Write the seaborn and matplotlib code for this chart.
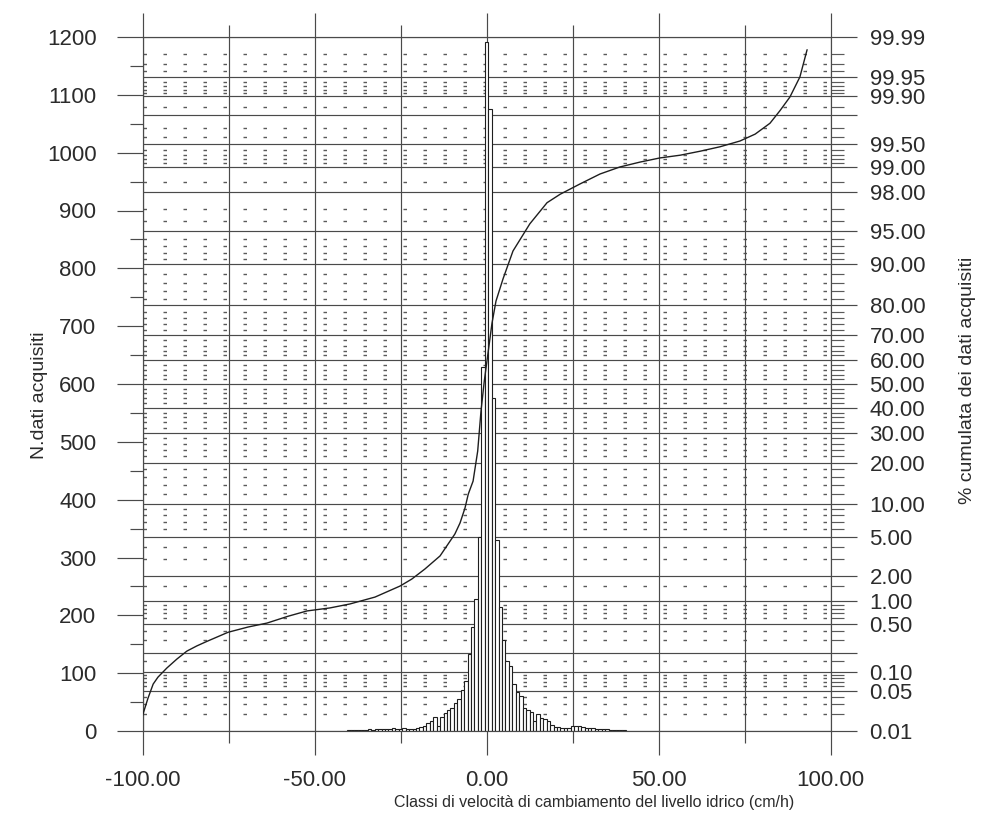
import math
import numpy as np
import pandas as pd
import matplotlib
matplotlib.use("Agg")
import matplotlib.pyplot as plt
from matplotlib.ticker import FixedLocator, FixedFormatter, NullFormatter
import seaborn as sns

# ---------------- data ----------------
bin_centers = list(range(-40, 41))
bin_counts = [
    1, 1, 2, 1, 2, 2, 3, 2, 3, 3,            # -40 .. -31
    4, 3, 4, 5, 4, 4, 5, 3, 3, 4,            # -30 .. -21
    6, 7, 9, 13, 17, 25, 9, 25, 31, 37,      # -20 .. -11
    40, 48, 55, 71, 87, 134, 180, 228, 336, 629,  # -10 .. -1
    1191,                                    # 0
    1075, 576, 331, 215, 157, 121, 112, 81, 68, 60,  # 1 .. 10
    40, 37, 32, 18, 30, 22, 20, 17, 10, 7,   # 11 .. 20
    7, 5, 5, 6, 8, 9, 8, 7, 5, 6,            # 21 .. 30
    5, 4, 3, 4, 3, 2, 2, 1, 1, 1,            # 31 .. 40
]

curve_x = [-100, -98.4, -96.9, -95.5, -92.9, -90.0, -87.1, -84.2, -81.3, -75.1,
           -69.3, -63.8, -57.7, -52.2, -45.5, -39.7, -32.4, -25.1, -21.7, -17.9,
           -13.5, -9.2, -7.7, -6.25, -5.3, -3.9, -2.56, -1.6, -0.64, 0.52,
           1.6, 2.76, 4.8, 7.7, 12.6, 17.6, 21.4, 27.2, 33.0, 38.8,
           44.6, 50.4, 56.3, 62.1, 67.9, 73.7, 78.1, 82.4, 85.3, 88.2,
           91.1, 93.2]
curve_pct = [0.019, 0.038, 0.065, 0.084, 0.117, 0.16, 0.21, 0.25, 0.29, 0.39,
             0.46, 0.52, 0.64, 0.75, 0.82, 0.92, 1.12, 1.52, 1.83, 2.37,
             3.27, 5.39, 6.81, 9.19, 11.9, 14.9, 23.6, 38.6, 51.3, 63.8,
             74.3, 81.3, 87.0, 92.3, 95.7, 97.4, 97.9, 98.40, 98.78, 99.00,
             99.13, 99.23, 99.29, 99.37, 99.45, 99.54, 99.63, 99.74, 99.83, 99.895,
             99.950, 99.983]

prob_major = [0.01, 0.05, 0.1, 0.2, 0.5, 1, 2, 5, 10, 20, 30, 40, 50, 60, 70,
              80, 90, 95, 98, 99, 99.5, 99.8, 99.9, 99.95, 99.99]
prob_labels = ["0.01", "0.05", "0.10", "", "0.50", "1.00", "2.00", "5.00", "10.00",
               "20.00", "30.00", "40.00", "50.00", "60.00", "70.00", "80.00",
               "90.00", "95.00", "98.00", "99.00", "99.50", "", "99.90", "99.95", "99.99"]
prob_minor = [0.02, 0.03, 0.04, 0.06, 0.07, 0.08, 0.09, 0.15, 0.3, 0.4,
              0.6, 0.7, 0.8, 0.9, 1.5, 3, 4, 6, 7, 8, 9, 12, 14, 16, 18,
              22, 24, 26, 28, 32, 34, 36, 38, 42, 44, 46, 48, 52, 54, 56, 58,
              62, 64, 66, 68, 72, 74, 76, 78, 82, 84, 86, 88, 91, 92, 93, 94,
              96, 97, 98.5, 99.1, 99.2, 99.3, 99.4, 99.6, 99.7, 99.85,
              99.91, 99.92, 99.93, 99.94, 99.96, 99.97, 99.98]

count_ticks = list(range(0, 1201, 100))
count_minor = list(range(50, 1200, 100))
x_ticks = [-100, -50, 0, 50, 100]
x_tick_labels = ["-100.00", "-50.00", "0.00", "50.00", "100.00"]
x_minor = [-75, -25, 25, 75]

# ---------------- normal probability scale ----------------
_A = [-3.969683028665376e+01, 2.209460984245205e+02, -2.759285104469687e+02,
      1.383577518672690e+02, -3.066479806614716e+01, 2.506628277459239e+00]
_B = [-5.447609879822406e+01, 1.615858368580409e+02, -1.556989798598866e+02,
      6.680131188771972e+01, -1.328068155288572e+01]
_C = [-7.784894002430293e-03, -3.223964580411365e-01, -2.400758277161838e+00,
      -2.549732539343734e+00, 4.374664141464968e+00, 2.938163982698783e+00]
_D = [7.784695709041462e-03, 3.224671290700398e-01, 2.445134137142996e+00,
      3.754408661907416e+00]


def _ppf(p):
    p = np.asarray(p, dtype=float)
    shape = p.shape
    p = np.clip(np.atleast_1d(p).ravel(), 1e-12, 1 - 1e-12)
    out = np.empty_like(p)
    plow = 0.02425
    lo = p < plow
    hi = p > 1 - plow
    mid = ~(lo | hi)
    q = np.sqrt(-2 * np.log(p[lo]))
    out[lo] = (((((_C[0]*q+_C[1])*q+_C[2])*q+_C[3])*q+_C[4])*q+_C[5]) / \
              ((((_D[0]*q+_D[1])*q+_D[2])*q+_D[3])*q+1)
    q = np.sqrt(-2 * np.log(1 - p[hi]))
    out[hi] = -(((((_C[0]*q+_C[1])*q+_C[2])*q+_C[3])*q+_C[4])*q+_C[5]) / \
              ((((_D[0]*q+_D[1])*q+_D[2])*q+_D[3])*q+1)
    q = p[mid] - 0.5
    r = q * q
    out[mid] = (((((_A[0]*r+_A[1])*r+_A[2])*r+_A[3])*r+_A[4])*r+_A[5])*q / \
               (((((_B[0]*r+_B[1])*r+_B[2])*r+_B[3])*r+_B[4])*r+1)
    return out.reshape(shape)


_erf = np.vectorize(math.erf)


def pct_fwd(pct):
    return _ppf(np.asarray(pct, dtype=float) / 100.0)


def pct_inv(z):
    z = np.asarray(z, dtype=float)
    return 50.0 * (1.0 + _erf(z / math.sqrt(2.0)))


# ---------------- styling ----------------
sns.set_theme(style="white")
plt.rcParams["font.family"] = ["Liberation Sans", "DejaVu Sans"]
plt.rcParams["lines.scale_dashes"] = False

INK = "#2b2b2b"
GRID = "#4a4a4a"
PT = 72 / 100.0  # points per pixel at dpi 100

fig = plt.figure(figsize=(9.94, 8.16), dpi=100, facecolor="white")
ax_bar = fig.add_axes([142.5 / 994, 1 - 731 / 816, 688 / 994, 694 / 816])
ax_grid = ax_bar.twinx()
ax_curve = ax_bar.twinx()
ax_grid.set_zorder(0)
ax_bar.set_zorder(1)
ax_curve.set_zorder(2)
ax_bar.patch.set_visible(False)
ax_grid.patch.set_visible(False)
ax_curve.patch.set_visible(False)

# histogram
df_hist = pd.DataFrame({"classe": bin_centers, "n": bin_counts})
sns.histplot(data=df_hist, x="classe", weights="n", discrete=True, ax=ax_bar,
             color="white", edgecolor="#1e1e1e", linewidth=0.8, alpha=1.0)
ax_bar.set_xlabel("")
ax_bar.set_ylabel("")

# cumulative curve on probability axis
df_curve = pd.DataFrame({"x": curve_x, "pct": curve_pct})
ax_curve.set_yscale("function", functions=(pct_fwd, pct_inv))
sns.lineplot(data=df_curve, x="x", y="pct", ax=ax_curve, color="#1e1e1e",
             linewidth=1.0, sort=False)
ax_curve.set_ylim(0.01, 99.99)
ax_curve.set_axis_off()

# probability grid axis (right)
ax_grid.set_yscale("function", functions=(pct_fwd, pct_inv))
ax_grid.set_ylim(0.01, 99.99)
ax_grid.yaxis.set_major_locator(FixedLocator(prob_major))
ax_grid.yaxis.set_major_formatter(FixedFormatter(prob_labels))
ax_grid.yaxis.set_minor_locator(FixedLocator(prob_minor))
ax_grid.yaxis.set_minor_formatter(NullFormatter())
ax_grid.grid(True, axis="y", which="major", color=GRID, linewidth=0.85, linestyle="-")
ax_grid.grid(True, axis="y", which="minor", color="#5a5a5a", linewidth=1.0,
             linestyle=(0, (3.5 * PT, 16.5 * PT)))
ax_grid.tick_params(axis="y", which="major", direction="out", length=26 * PT,
                    width=0.85, color=GRID, pad=13 * PT, labelsize=16,
                    labelcolor=INK, right=True, left=False,
                    labelright=True, labelleft=False)
ax_grid.tick_params(axis="y", which="minor", direction="out", length=13 * PT,
                    width=0.85, color="#5a5a5a", right=True, left=False)
for s in ax_grid.spines.values():
    s.set_visible(False)

# count axis (left) and x axis
ax_bar.set_xlim(-100, 100)
ax_bar.set_ylim(0, 1200)
ax_bar.set_xticks(x_ticks, x_tick_labels)
ax_bar.set_xticks(x_minor, minor=True)
ax_bar.set_yticks(count_ticks, [str(v) for v in count_ticks])
ax_bar.set_yticks(count_minor, minor=True)
ax_bar.set_axisbelow(True)
ax_bar.grid(True, axis="x", which="both", color=GRID, linewidth=0.85, linestyle="-")
ax_bar.grid(False, axis="y", which="both")
ax_bar.tick_params(axis="x", which="major", direction="out", length=24 * PT,
                   width=0.85, color=GRID, bottom=True, top=True,
                   labelbottom=True, labeltop=False, labelsize=16,
                   labelcolor=INK, pad=11)
ax_bar.tick_params(axis="x", which="minor", direction="out", length=12 * PT,
                   width=0.85, color=GRID, bottom=True, top=True)
ax_bar.tick_params(axis="y", which="major", direction="out", length=26 * PT,
                   width=0.85, color=GRID, left=True, right=False,
                   labelleft=True, labelright=False, labelsize=16,
                   labelcolor=INK, pad=20 * PT)
ax_bar.tick_params(axis="y", which="minor", direction="out", length=13 * PT,
                   width=0.85, color=GRID, left=True, right=False)
for s in ax_bar.spines.values():
    s.set_visible(True)
    s.set_color(GRID)
    s.set_linewidth(0.85)

# axis titles
fig.text(594 / 994, 1 - 802 / 816,
         "Classi di velocità di cambiamento del livello idrico (cm/h)",
         ha="center", va="center", fontsize=11.5, color=INK)
fig.text(40 / 994, 1 - 395 / 816, "N.dati acquisiti", rotation=90,
         ha="center", va="center", fontsize=14, color=INK)
fig.text(968 / 994, 1 - 380 / 816, "% cumulata dei dati acquisiti", rotation=90,
         ha="center", va="center", fontsize=14, color=INK)

fig.savefig("out.png", dpi=100, facecolor="white")
